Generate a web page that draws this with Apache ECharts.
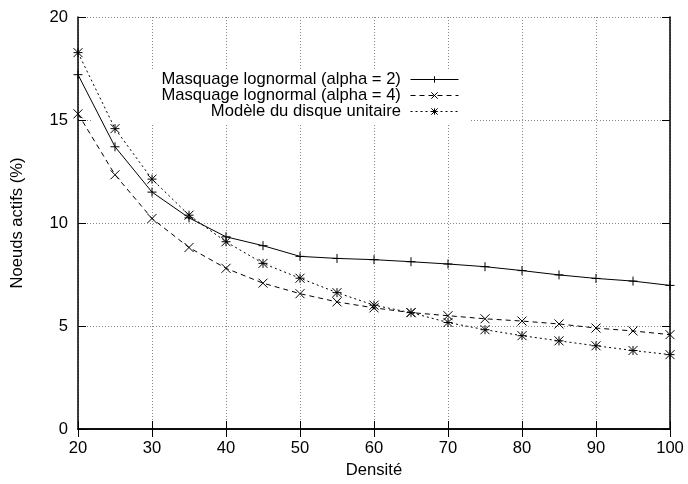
<!DOCTYPE html>
<html>
<head>
<meta charset="utf-8">
<script src="https://cdn.jsdelivr.net/npm/echarts@6/dist/echarts.min.js"></script>
<style>html,body{margin:0;padding:0;background:#fff}#c{width:688px;height:484px}</style>
</head>
<body>
<div id="c"></div>
<script>
const densities = [20,25,30,35,40,45,50,55,60,65,70,75,80,85,90,95,100];
const alpha2 = [17.2,13.7,11.5,10.25,9.33,8.9,8.38,8.28,8.22,8.12,8.01,7.88,7.69,7.48,7.31,7.18,6.97];
const alpha4 = [15.3,12.34,10.22,8.81,7.8,7.08,6.57,6.17,5.88,5.65,5.5,5.35,5.24,5.1,4.9,4.76,4.58];
const disque = [18.27,14.58,12.13,10.38,9.09,8.04,7.32,6.62,6.01,5.65,5.17,4.82,4.53,4.28,4.04,3.81,3.61];
const names = ['Masquage lognormal (alpha = 2)','Masquage lognormal (alpha = 4)','Modèle du disque unitaire'];
const xTitle = 'Densité';
const yTitle = 'Noeuds actifs (%)';

const FONT = '"Liberation Sans", Arial, Helvetica, sans-serif';
const FS = 16.6;
const pair = arr => densities.map((d,i)=>[d,arr[i]]);
const symPlus = 'path://M0,5L10,5M5,0L5,10';
const symCross = 'path://M0,0L10,10M10,0L0,10';
const symStar = 'path://M0,5L10,5M5,0L5,10M0,0L10,10M10,0L0,10';

function mkSeries(name, data, sym, dash){
  return {
    name, type:'line', data: pair(data), symbol: sym, symbolSize: 9,
    itemStyle:{color:'#000', borderColor:'#000', borderWidth:1},
    lineStyle:{color:'#000', width:1, type: dash},
    emphasis:{disabled:true}, z:2
  };
}
function mkLegend(name, top){
  return {
    data:[name], orient:'vertical', right: 229, top: top, align:'right',
    itemWidth: 48, itemHeight: 8, padding: 0, itemGap: 0,
    formatter: n => n + ' ',
    itemStyle:{borderWidth:1},
    lineStyle:{width:1},
    textStyle:{fontFamily:FONT, fontSize:FS, color:'#000', lineHeight:16},
    selectedMode:false
  };
}
const chart = echarts.init(document.getElementById('c'), null, {renderer:'canvas'});
const axisBase = {
  axisLine:{show:true, lineStyle:{color:'#000', width:1.5}},
  axisTick:{show:true, inside:true, length:8, lineStyle:{color:'#000', width:1}},
};
chart.setOption({
  animation:false,
  backgroundColor:'#fff',
  grid:{left:78, right:18, top:17, bottom:51, containLabel:false},
  legend:[mkLegend(names[0],71), mkLegend(names[1],87), mkLegend(names[2],103)],
  graphic:[{type:'rect', shape:{x:93, y:70, width:376, height:54}, style:{fill:'#fff'}, z:1, silent:true}],
  xAxis:[
    Object.assign({type:'value', min:20, max:100, interval:10, position:'bottom',
      name:xTitle, nameLocation:'middle', nameGap:33,
      nameTextStyle:{fontFamily:FONT, fontSize:FS, color:'#000'},
      axisLabel:{fontFamily:FONT, fontSize:FS, color:'#000', margin:11},
      splitLine:{show:true, lineStyle:{color:'#888', width:1, type:[1,2]}}}, axisBase),
    Object.assign({type:'value', min:20, max:100, interval:10, position:'top',
      axisLabel:{show:false}, splitLine:{show:false}}, axisBase)
  ],
  yAxis:[
    Object.assign({type:'value', min:0, max:20, interval:5, position:'left',
      name:yTitle, nameLocation:'middle', nameGap:52, nameRotate:90,
      nameTextStyle:{fontFamily:FONT, fontSize:FS, color:'#000'},
      axisLabel:{fontFamily:FONT, fontSize:FS, color:'#000', margin:10},
      splitLine:{show:true, lineStyle:{color:'#888', width:1, type:[1,2]}}}, axisBase),
    Object.assign({type:'value', min:0, max:20, interval:5, position:'right',
      axisLabel:{show:false}, splitLine:{show:false}}, axisBase)
  ],
  series:[
    mkSeries(names[0], alpha2, symPlus, 'solid'),
    mkSeries(names[1], alpha4, symCross, [5,4]),
    mkSeries(names[2], disque, symStar, [2,3])
  ]
});
</script>
</body>
</html>
